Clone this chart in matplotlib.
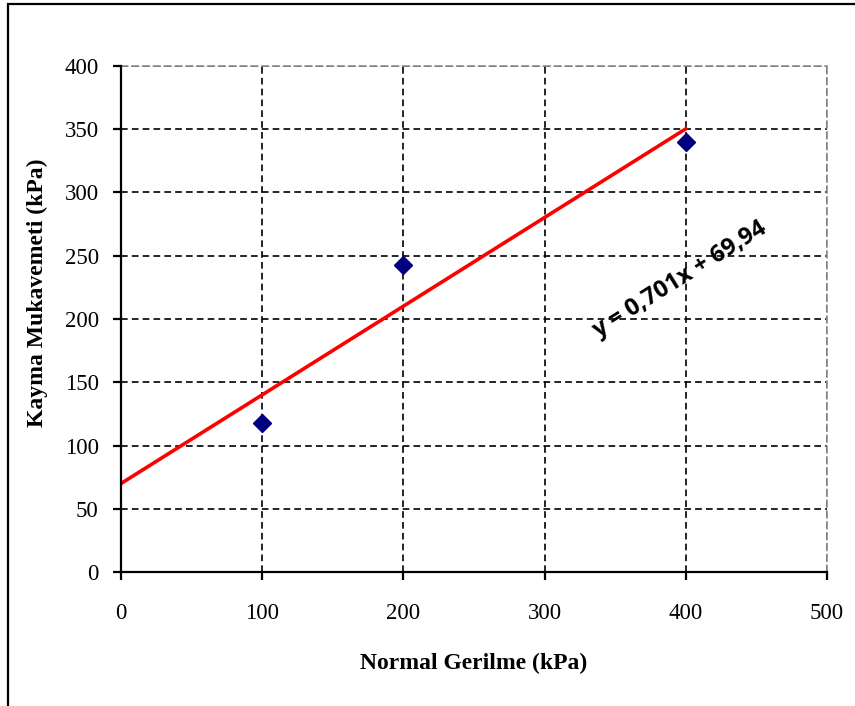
import numpy as np
import matplotlib.pyplot as plt
from matplotlib.patches import Rectangle

# data
normal_stress = [100, 200, 400]          # kPa
shear_strength = [118, 243, 340]         # kPa
slope, intercept = 0.701, 69.94
fit_x = [0, 400]
eq_label = "y = 0,701x + 69,94"

x_ticks = [0, 100, 200, 300, 400, 500]
y_ticks = [0, 50, 100, 150, 200, 250, 300, 350, 400]

W, H = 855, 706
fig = plt.figure(figsize=(W / 100, H / 100), dpi=100)
ax = fig.add_axes([121 / W, 1 - 572 / H, (827 - 121) / W, (572 - 66) / H])

# outer chart frame (cut by the image edges on the right and bottom)
fig.patches.append(Rectangle((8 / W, -0.05), 1.2, 1 - 4 / H + 0.05,
                             transform=fig.transFigure, fill=False,
                             edgecolor="black", linewidth=1.6, zorder=0))

ax.set_xlim(0, 500)
ax.set_ylim(0, 400)
ax.set_xticks(x_ticks)
ax.set_yticks(y_ticks)
ax.grid(True, color="black", linestyle=(0, (4, 2.5)), linewidth=1.2)
ax.set_axisbelow(True)

fx = np.array(fit_x)
ax.plot(fx, slope * fx + intercept, color="red", linewidth=2.6, zorder=3)
ax.plot(normal_stress, shear_strength, linestyle="none", marker="D",
        markersize=9.5, color="#000080", zorder=4)

for s in ("top", "right"):
    ax.spines[s].set_color("#909090")
    ax.spines[s].set_linestyle((0, (4, 2.5)))
    ax.spines[s].set_linewidth(1.2)
for s in ("left", "bottom"):
    ax.spines[s].set_linewidth(1.6)
    ax.spines[s].set_zorder(5)

ax.tick_params(direction="out", length=6, width=1.6, labelsize=16.5)
ax.tick_params(axis="y", pad=10)
ax.tick_params(axis="x", pad=16)
for lab in ax.get_xticklabels() + ax.get_yticklabels():
    lab.set_fontfamily("Liberation Serif")

ax.set_xlabel("Normal Gerilme (kPa)", fontfamily="Liberation Serif",
              fontweight="bold", fontsize=17)
ax.set_ylabel("Kayma Mukavemeti (kPa)", fontfamily="Liberation Serif",
              fontweight="bold", fontsize=17)
ax.xaxis.set_label_coords(0.5, -0.18)
ax.yaxis.set_label_coords(-0.119, 0.551)
ax.xaxis.label.set_va("center")
ax.yaxis.label.set_va("center")

ax.text(396, 231, eq_label, fontfamily="Open Sans", fontweight="bold",
        fontsize=17, rotation=32, ha="center", va="center", zorder=6)

fig.savefig("out.png", dpi=100)
